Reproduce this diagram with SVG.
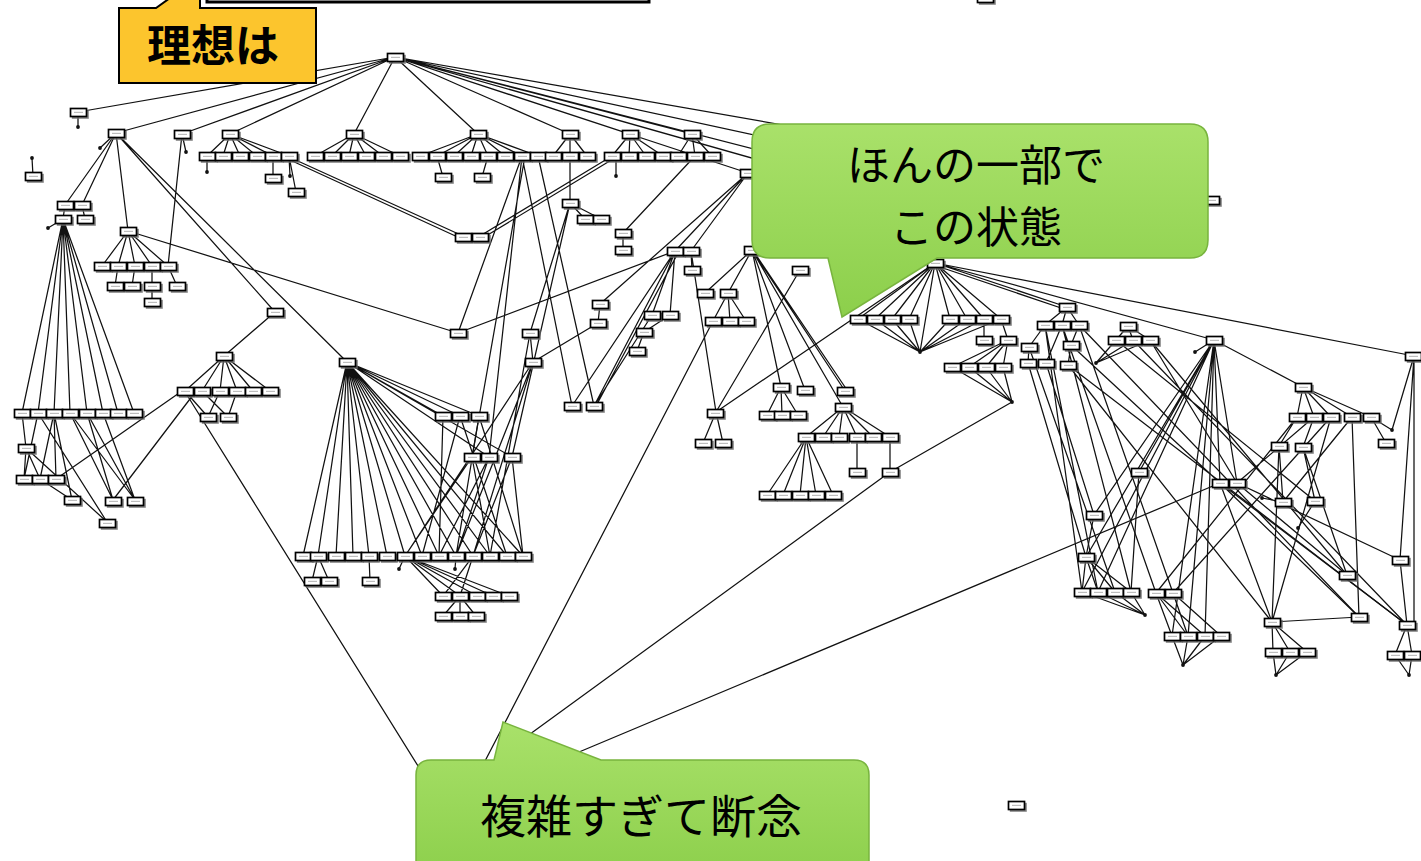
<svg xmlns="http://www.w3.org/2000/svg" xmlns:xlink="http://www.w3.org/1999/xlink" width="1421" height="861" viewBox="0 0 1421 861">
<style>
.e path{fill:none;stroke:#111;stroke-width:1.25}
.d circle{fill:#111}
.t{font-family:"Noto Sans CJK JP","Noto Sans CJK SC",sans-serif;fill:#000;text-anchor:middle}
</style>
<defs>
<g id="b"><rect x="1.8" y="1.8" width="17" height="9" fill="#6e6e6e" opacity=".85"/><rect x=".5" y=".5" width="16" height="8" fill="#fff" stroke="#000" stroke-width="1.7"/><rect x="4" y="3.8" width="9" height="1.2" fill="#bdbdbd"/></g>
<linearGradient id="gg" x1="0" y1="0" x2="0" y2="1"><stop offset="0" stop-color="#a9e16a"/><stop offset="1" stop-color="#8ccf4b"/></linearGradient>
</defs>
<rect width="1421" height="861" fill="#fff"/>
<rect x="207" y="-10" width="442" height="12" fill="#fff" stroke="#000" stroke-width="3"/>
<g id="connectors" class="e">
<path d="M395 57L78 112M395 57L116 133M395 57L182 134M395 57L230 134M395 57L354 134M395 57L478 134M395 57L570 134M395 57L630 134M395 57L692 134M395 57L748 173M395 57L900 200M395 57L1000 212M395 57L1100 210M395 57L1211 200M78 112L78 127M33 176L32 158"/>
<path d="M230 134L207 156M230 134L223 156M230 134L240 156M230 134L257 156M230 134L273 156M230 134L289 156M207 156L207 172M273 156L273 178M289 156L296 192M289 156L290 176M289 157L463 236M290 160L462 239M354 134L315 156M354 134L332 156M354 134L349 156M354 134L366 156M354 134L383 156M354 134L400 156M478 134L420 156M478 134L437 156M478 134L454 156M478 134L471 156M478 134L488 156M478 134L505 156M478 134L522 156M478 134L538 156M437 156L443 177M488 156L482 177M570 134L553 156M570 134L570 156M570 134L587 156M630 134L612 156M630 134L629 156M630 134L646 156M630 134L663 156M616 156L616 176M692 134L678 156M692 134L695 156M692 134L712 156"/>
<path d="M612 156L480 236M613 159L481 239M570 156L570 203M570 203L585 219M570 203L601 219M695 156L623 233M623 233L623 250M748 173L675 251M748 173L691 251M748 173L600 304M458 333L675 251M458 333L522 156M691 251L692 270M675 251L572 406M675 251L594 406M678 253L596 406M675 251L652 315M675 251L670 315M670 315L644 332M644 332L637 351M652 315L594 406M691 251L716 412M600 304L598 323M598 323L533 362M530 333L533 362M570 203L530 333M522 156L572 406M538 156L594 406M525 156L472 457M522 156L489 457M570 203L512 457"/>
<path d="M752 250L705 293M752 250L728 293M752 250L781 387M752 250L805 390M752 250L845 391M754 252L847 390M752 250L843 407M728 293L713 321M728 293L730 321M728 293L746 321M800 270L716 412M716 412L935 263M716 412L703 443M716 412L723 443M781 387L767 415M781 387L782 415M781 387L798 415M843 407L806 437M843 407L823 437M843 407L839 437M843 407L857 437M843 407L873 437M843 407L890 437M806 437L767 495M806 437L783 495M806 437L800 495M806 437L816 495M806 437L833 495M857 437L857 472M890 437L890 472M1012 402L890 472"/>
<path d="M187 395L428 782M713 321L470 790M890 472L515 745M1220 483L560 760"/>
<path d="M116 133L65 205M116 133L82 205M65 205L63 219M82 205L85 219M63 219L48 228M116 133L100 148M116 133L128 231M116 133L275 312M118 135L347 362M182 134L168 266M182 134L186 152M128 231L102 266M128 231L118 266M128 231L135 266M128 231L152 266M128 231L168 266M118 266L115 286M135 266L132 286M152 266L152 286M168 266L177 286M152 286L152 302M128 231L458 333"/>
<path d="M63 219L22 413M63 219L38 413M63 219L54 413M63 219L70 413M63 219L87 413M63 219L103 413M63 219L118 413M63 219L134 413M22 413L26 448M26 448L24 479M26 448L40 479M38 413L24 479M54 413L40 479M54 413L56 479M54 413L72 500M38 413L107 522M70 413L113 500M70 413L135 500M87 413L113 500M87 413L135 500M103 413L135 500M40 479L72 500M26 448L107 522M182 391L56 479M193 395L113 500M275 312L224 356M224 356L185 391M224 356L202 391M224 356L220 391M224 356L237 391M224 356L253 391M224 356L270 391M185 391L208 417M202 391L228 417M220 391L208 417M237 391L228 417"/>
<path d="M347 362L303 556M347 362L318 556M347 362L336 556M347 362L353 556M347 362L369 556M347 362L387 556M347 362L405 556M347 362L422 556M347 362L439 556M347 362L456 556M347 362L473 556M347 362L490 556M347 362L507 556M347 362L523 556M347 362L443 416M347 362L460 416M347 362L479 416M347 362L512 457M347 362L489 457M443 416L439 556M460 416L507 556M479 416L456 556M479 416L523 556M460 416L422 556M472 457L405 556M489 457L439 556M512 457L473 556M512 457L523 556M472 457L490 556M489 457L456 556M533 362L456 556M533 362L473 556M530 333L490 556M533 362L405 556M318 556L312 581M318 556L329 581M369 556L370 581M405 556L443 596M405 556L460 596M405 556L477 596M405 556L493 596M405 556L509 596M473 556L443 596M473 556L460 596M460 596L443 616M460 596L460 616M460 596L476 616M405 556L399 569M456 556L455 569"/>
<path d="M935 263L858 319M935 263L875 319M935 263L892 319M935 263L909 319M935 263L950 319M935 263L967 319M935 263L984 319M935 263L1001 319M935 263L920 352M858 319L920 352M875 319L920 352M892 319L920 352M909 319L920 352M950 319L920 352M967 319L920 352M984 319L920 352M1001 319L920 352M984 319L984 340M1001 319L1008 340M1008 340L952 367M1008 340L969 367M1008 340L986 367M1008 340L1003 367M952 367L1012 402M969 367L1012 402M986 367L1012 402M1003 367L1012 402M935 263L1067 307M937 266L1067 310M935 263L1214 340M935 263L1414 356"/>
<path d="M1067 307L1045 325M1067 307L1062 325M1067 307L1079 325M1045 325L1029 347M1029 347L1028 363M1062 325L1046 363M1079 325L1071 345M1071 345L1068 365M1045 325L1082 592M1045 325L1098 592M1029 347L1115 592M1062 325L1131 592M1046 363L1094 515M1028 363L1086 557M1062 325L1156 593M1079 325L1173 593M1071 345L1220 483M1068 365L1272 622M1079 325L1359 617M1068 365L1407 625M1128 326L1116 340M1128 326L1133 340M1128 326L1150 340M1116 340L1096 363M1133 340L1096 363M1150 340L1096 363M1150 340L1347 575M1133 340L1407 625M1116 340L1315 501M1150 340L1237 483"/>
<path d="M1214 340L1094 515M1214 340L1086 557M1214 340L1082 592M1214 340L1098 592M1214 340L1139 472M1214 340L1172 636M1214 340L1188 636M1214 340L1205 636M1214 340L1220 483M1214 340L1237 483M1214 340L1303 387M1214 340L1195 352M1303 387L1297 417M1303 387L1314 417M1303 387L1331 417M1303 387L1352 417M1303 387L1371 417M1297 417L1279 446M1314 417L1303 447M1371 417L1386 443M1371 417L1392 430M1279 446L1272 622M1279 446L1283 502M1303 447L1347 575M1303 447L1315 501M1331 417L1272 622M1352 417L1359 617M1352 417L1283 502M1331 417L1173 593M1297 417L1156 593M1314 417L1237 483"/>
<path d="M1272 622L1359 617M1272 622L1273 652M1272 622L1290 652M1272 622L1307 652M1273 652L1276 675M1290 652L1276 675M1307 652L1276 675M1407 625L1395 655M1407 625L1412 655M1395 655L1409 675M1412 655L1409 675M1414 356L1414 625M1414 356L1400 560M1414 356L1392 430M1220 483L1359 617M1220 483L1407 625M1237 483L1347 575M1220 483L1272 622M1237 483L1400 560M1094 515L1086 557M1086 557L1082 592M1086 557L1098 592M1086 557L1115 592M1086 557L1131 592M1082 592L1145 615M1098 592L1145 615M1115 592L1145 615M1131 592L1145 615M1156 593L1172 636M1156 593L1188 636M1156 593L1205 636M1173 593L1221 636M1173 593L1188 636M1172 636L1183 665M1188 636L1183 665M1205 636L1183 665M1221 636L1183 665M1139 472L1131 592M1283 502L1262 498M1315 501L1298 528M1400 560L1407 625"/>
</g>
<g class="d">
<circle cx="78" cy="127" r="1.9"/><circle cx="32" cy="158" r="1.9"/><circle cx="207" cy="172" r="1.9"/><circle cx="290" cy="176" r="1.9"/><circle cx="616" cy="176" r="1.9"/><circle cx="48" cy="228" r="1.9"/><circle cx="100" cy="148" r="1.9"/><circle cx="186" cy="152" r="1.9"/><circle cx="399" cy="569" r="1.9"/><circle cx="455" cy="569" r="1.9"/><circle cx="920" cy="352" r="1.9"/><circle cx="1012" cy="402" r="1.9"/><circle cx="1096" cy="363" r="1.9"/><circle cx="1145" cy="615" r="1.9"/><circle cx="1183" cy="665" r="1.9"/><circle cx="1276" cy="675" r="1.9"/><circle cx="1409" cy="675" r="1.9"/><circle cx="1195" cy="352" r="1.9"/><circle cx="1392" cy="430" r="1.9"/><circle cx="1262" cy="498" r="1.9"/><circle cx="1298" cy="528" r="1.9"/>
</g>
<g id="n1"><use href="#b" x="387" y="53"/></g>
<g id="n2"><use href="#b" x="70" y="108"/></g>
<g id="n3"><use href="#b" x="25" y="172"/></g>
<g id="n4"><use href="#b" x="108" y="129"/></g>
<g id="n5"><use href="#b" x="174" y="130"/></g>
<g id="n6"><use href="#b" x="222" y="130"/></g>
<g id="n7"><use href="#b" x="346" y="130"/></g>
<g id="n8"><use href="#b" x="470" y="130"/></g>
<g id="n9"><use href="#b" x="562" y="130"/></g>
<g id="n10"><use href="#b" x="622" y="130"/></g>
<g id="n11"><use href="#b" x="684" y="130"/></g>
<g id="n12"><use href="#b" x="199" y="152"/></g>
<g id="n13"><use href="#b" x="215" y="152"/></g>
<g id="n14"><use href="#b" x="232" y="152"/></g>
<g id="n15"><use href="#b" x="249" y="152"/></g>
<g id="n16"><use href="#b" x="265" y="152"/></g>
<g id="n17"><use href="#b" x="281" y="152"/></g>
<g id="n18"><use href="#b" x="307" y="152"/></g>
<g id="n19"><use href="#b" x="324" y="152"/></g>
<g id="n20"><use href="#b" x="341" y="152"/></g>
<g id="n21"><use href="#b" x="358" y="152"/></g>
<g id="n22"><use href="#b" x="375" y="152"/></g>
<g id="n23"><use href="#b" x="392" y="152"/></g>
<g id="n24"><use href="#b" x="412" y="152"/></g>
<g id="n25"><use href="#b" x="429" y="152"/></g>
<g id="n26"><use href="#b" x="446" y="152"/></g>
<g id="n27"><use href="#b" x="463" y="152"/></g>
<g id="n28"><use href="#b" x="480" y="152"/></g>
<g id="n29"><use href="#b" x="497" y="152"/></g>
<g id="n30"><use href="#b" x="514" y="152"/></g>
<g id="n31"><use href="#b" x="530" y="152"/></g>
<g id="n32"><use href="#b" x="545" y="152"/></g>
<g id="n33"><use href="#b" x="562" y="152"/></g>
<g id="n34"><use href="#b" x="579" y="152"/></g>
<g id="n35"><use href="#b" x="604" y="152"/></g>
<g id="n36"><use href="#b" x="621" y="152"/></g>
<g id="n37"><use href="#b" x="638" y="152"/></g>
<g id="n38"><use href="#b" x="655" y="152"/></g>
<g id="n39"><use href="#b" x="670" y="152"/></g>
<g id="n40"><use href="#b" x="687" y="152"/></g>
<g id="n41"><use href="#b" x="704" y="152"/></g>
<g id="n42"><use href="#b" x="265" y="174"/></g>
<g id="n43"><use href="#b" x="288" y="188"/></g>
<g id="n44"><use href="#b" x="435" y="173"/></g>
<g id="n45"><use href="#b" x="474" y="173"/></g>
<g id="n46"><use href="#b" x="455" y="233"/></g>
<g id="n47"><use href="#b" x="472" y="233"/></g>
<g id="n48"><use href="#b" x="562" y="199"/></g>
<g id="n49"><use href="#b" x="577" y="215"/></g>
<g id="n50"><use href="#b" x="593" y="215"/></g>
<g id="n51"><use href="#b" x="615" y="229"/></g>
<g id="n52"><use href="#b" x="615" y="246"/></g>
<g id="n53"><use href="#b" x="740" y="169"/></g>
<g id="n54"><use href="#b" x="667" y="247"/></g>
<g id="n55"><use href="#b" x="683" y="247"/></g>
<g id="n56"><use href="#b" x="684" y="266"/></g>
<g id="n57"><use href="#b" x="744" y="246"/></g>
<g id="n58"><use href="#b" x="792" y="266"/></g>
<g id="n59"><use href="#b" x="697" y="289"/></g>
<g id="n60"><use href="#b" x="720" y="289"/></g>
<g id="n61"><use href="#b" x="705" y="317"/></g>
<g id="n62"><use href="#b" x="722" y="317"/></g>
<g id="n63"><use href="#b" x="738" y="317"/></g>
<g id="n64"><use href="#b" x="592" y="300"/></g>
<g id="n65"><use href="#b" x="590" y="319"/></g>
<g id="n66"><use href="#b" x="644" y="311"/></g>
<g id="n67"><use href="#b" x="662" y="311"/></g>
<g id="n68"><use href="#b" x="636" y="328"/></g>
<g id="n69"><use href="#b" x="629" y="347"/></g>
<g id="n70"><use href="#b" x="522" y="329"/></g>
<g id="n71"><use href="#b" x="525" y="358"/></g>
<g id="n72"><use href="#b" x="564" y="402"/></g>
<g id="n73"><use href="#b" x="586" y="402"/></g>
<g id="n74"><use href="#b" x="450" y="329"/></g>
<g id="n75"><use href="#b" x="57" y="201"/></g>
<g id="n76"><use href="#b" x="74" y="201"/></g>
<g id="n77"><use href="#b" x="55" y="215"/></g>
<g id="n78"><use href="#b" x="77" y="215"/></g>
<g id="n79"><use href="#b" x="120" y="227"/></g>
<g id="n80"><use href="#b" x="94" y="262"/></g>
<g id="n81"><use href="#b" x="110" y="262"/></g>
<g id="n82"><use href="#b" x="127" y="262"/></g>
<g id="n83"><use href="#b" x="144" y="262"/></g>
<g id="n84"><use href="#b" x="160" y="262"/></g>
<g id="n85"><use href="#b" x="107" y="282"/></g>
<g id="n86"><use href="#b" x="124" y="282"/></g>
<g id="n87"><use href="#b" x="144" y="282"/></g>
<g id="n88"><use href="#b" x="169" y="282"/></g>
<g id="n89"><use href="#b" x="144" y="298"/></g>
<g id="n90"><use href="#b" x="14" y="409"/></g>
<g id="n91"><use href="#b" x="30" y="409"/></g>
<g id="n92"><use href="#b" x="46" y="409"/></g>
<g id="n93"><use href="#b" x="62" y="409"/></g>
<g id="n94"><use href="#b" x="79" y="409"/></g>
<g id="n95"><use href="#b" x="95" y="409"/></g>
<g id="n96"><use href="#b" x="110" y="409"/></g>
<g id="n97"><use href="#b" x="126" y="409"/></g>
<g id="n98"><use href="#b" x="18" y="444"/></g>
<g id="n99"><use href="#b" x="16" y="475"/></g>
<g id="n100"><use href="#b" x="32" y="475"/></g>
<g id="n101"><use href="#b" x="48" y="475"/></g>
<g id="n102"><use href="#b" x="64" y="496"/></g>
<g id="n103"><use href="#b" x="105" y="497"/></g>
<g id="n104"><use href="#b" x="127" y="497"/></g>
<g id="n105"><use href="#b" x="99" y="519"/></g>
<g id="n106"><use href="#b" x="267" y="308"/></g>
<g id="n107"><use href="#b" x="216" y="352"/></g>
<g id="n108"><use href="#b" x="177" y="387"/></g>
<g id="n109"><use href="#b" x="194" y="387"/></g>
<g id="n110"><use href="#b" x="212" y="387"/></g>
<g id="n111"><use href="#b" x="229" y="387"/></g>
<g id="n112"><use href="#b" x="245" y="387"/></g>
<g id="n113"><use href="#b" x="262" y="387"/></g>
<g id="n114"><use href="#b" x="200" y="413"/></g>
<g id="n115"><use href="#b" x="220" y="413"/></g>
<g id="n116"><use href="#b" x="339" y="358"/></g>
<g id="n117"><use href="#b" x="435" y="412"/></g>
<g id="n118"><use href="#b" x="452" y="412"/></g>
<g id="n119"><use href="#b" x="471" y="412"/></g>
<g id="n120"><use href="#b" x="464" y="453"/></g>
<g id="n121"><use href="#b" x="481" y="453"/></g>
<g id="n122"><use href="#b" x="504" y="453"/></g>
<g id="n123"><use href="#b" x="295" y="552"/></g>
<g id="n124"><use href="#b" x="310" y="552"/></g>
<g id="n125"><use href="#b" x="328" y="552"/></g>
<g id="n126"><use href="#b" x="345" y="552"/></g>
<g id="n127"><use href="#b" x="361" y="552"/></g>
<g id="n128"><use href="#b" x="379" y="552"/></g>
<g id="n129"><use href="#b" x="397" y="552"/></g>
<g id="n130"><use href="#b" x="414" y="552"/></g>
<g id="n131"><use href="#b" x="431" y="552"/></g>
<g id="n132"><use href="#b" x="448" y="552"/></g>
<g id="n133"><use href="#b" x="465" y="552"/></g>
<g id="n134"><use href="#b" x="482" y="552"/></g>
<g id="n135"><use href="#b" x="499" y="552"/></g>
<g id="n136"><use href="#b" x="515" y="552"/></g>
<g id="n137"><use href="#b" x="304" y="577"/></g>
<g id="n138"><use href="#b" x="321" y="577"/></g>
<g id="n139"><use href="#b" x="362" y="577"/></g>
<g id="n140"><use href="#b" x="435" y="592"/></g>
<g id="n141"><use href="#b" x="452" y="592"/></g>
<g id="n142"><use href="#b" x="469" y="592"/></g>
<g id="n143"><use href="#b" x="485" y="592"/></g>
<g id="n144"><use href="#b" x="501" y="592"/></g>
<g id="n145"><use href="#b" x="435" y="612"/></g>
<g id="n146"><use href="#b" x="452" y="612"/></g>
<g id="n147"><use href="#b" x="468" y="612"/></g>
<g id="n148"><use href="#b" x="707" y="409"/></g>
<g id="n149"><use href="#b" x="695" y="439"/></g>
<g id="n150"><use href="#b" x="715" y="439"/></g>
<g id="n151"><use href="#b" x="773" y="383"/></g>
<g id="n152"><use href="#b" x="797" y="386"/></g>
<g id="n153"><use href="#b" x="759" y="411"/></g>
<g id="n154"><use href="#b" x="774" y="411"/></g>
<g id="n155"><use href="#b" x="790" y="411"/></g>
<g id="n156"><use href="#b" x="835" y="403"/></g>
<g id="n157"><use href="#b" x="837" y="387"/></g>
<g id="n158"><use href="#b" x="798" y="433"/></g>
<g id="n159"><use href="#b" x="815" y="433"/></g>
<g id="n160"><use href="#b" x="831" y="433"/></g>
<g id="n161"><use href="#b" x="849" y="433"/></g>
<g id="n162"><use href="#b" x="865" y="433"/></g>
<g id="n163"><use href="#b" x="882" y="433"/></g>
<g id="n164"><use href="#b" x="849" y="468"/></g>
<g id="n165"><use href="#b" x="882" y="468"/></g>
<g id="n166"><use href="#b" x="759" y="491"/></g>
<g id="n167"><use href="#b" x="775" y="491"/></g>
<g id="n168"><use href="#b" x="792" y="491"/></g>
<g id="n169"><use href="#b" x="808" y="491"/></g>
<g id="n170"><use href="#b" x="825" y="491"/></g>
<g id="n171"><use href="#b" x="850" y="315"/></g>
<g id="n172"><use href="#b" x="867" y="315"/></g>
<g id="n173"><use href="#b" x="884" y="315"/></g>
<g id="n174"><use href="#b" x="901" y="315"/></g>
<g id="n175"><use href="#b" x="942" y="315"/></g>
<g id="n176"><use href="#b" x="959" y="315"/></g>
<g id="n177"><use href="#b" x="976" y="315"/></g>
<g id="n178"><use href="#b" x="993" y="315"/></g>
<g id="n179"><use href="#b" x="976" y="336"/></g>
<g id="n180"><use href="#b" x="1000" y="336"/></g>
<g id="n181"><use href="#b" x="944" y="363"/></g>
<g id="n182"><use href="#b" x="961" y="363"/></g>
<g id="n183"><use href="#b" x="978" y="363"/></g>
<g id="n184"><use href="#b" x="995" y="363"/></g>
<g id="n185"><use href="#b" x="927" y="259"/></g>
<g id="n186"><use href="#b" x="1059" y="303"/></g>
<g id="n187"><use href="#b" x="1037" y="321"/></g>
<g id="n188"><use href="#b" x="1054" y="321"/></g>
<g id="n189"><use href="#b" x="1071" y="321"/></g>
<g id="n190"><use href="#b" x="1021" y="343"/></g>
<g id="n191"><use href="#b" x="1020" y="359"/></g>
<g id="n192"><use href="#b" x="1038" y="359"/></g>
<g id="n193"><use href="#b" x="1063" y="341"/></g>
<g id="n194"><use href="#b" x="1060" y="361"/></g>
<g id="n195"><use href="#b" x="1120" y="322"/></g>
<g id="n196"><use href="#b" x="1108" y="336"/></g>
<g id="n197"><use href="#b" x="1125" y="336"/></g>
<g id="n198"><use href="#b" x="1142" y="336"/></g>
<g id="n199"><use href="#b" x="1206" y="336"/></g>
<g id="n200"><use href="#b" x="1295" y="383"/></g>
<g id="n201"><use href="#b" x="1289" y="413"/></g>
<g id="n202"><use href="#b" x="1306" y="413"/></g>
<g id="n203"><use href="#b" x="1323" y="413"/></g>
<g id="n204"><use href="#b" x="1344" y="413"/></g>
<g id="n205"><use href="#b" x="1363" y="413"/></g>
<g id="n206"><use href="#b" x="1271" y="442"/></g>
<g id="n207"><use href="#b" x="1295" y="443"/></g>
<g id="n208"><use href="#b" x="1378" y="439"/></g>
<g id="n209"><use href="#b" x="1405" y="352"/></g>
<g id="n210"><use href="#b" x="1131" y="468"/></g>
<g id="n211"><use href="#b" x="1086" y="511"/></g>
<g id="n212"><use href="#b" x="1078" y="553"/></g>
<g id="n213"><use href="#b" x="1074" y="588"/></g>
<g id="n214"><use href="#b" x="1090" y="588"/></g>
<g id="n215"><use href="#b" x="1107" y="588"/></g>
<g id="n216"><use href="#b" x="1123" y="588"/></g>
<g id="n217"><use href="#b" x="1148" y="589"/></g>
<g id="n218"><use href="#b" x="1165" y="589"/></g>
<g id="n219"><use href="#b" x="1164" y="632"/></g>
<g id="n220"><use href="#b" x="1180" y="632"/></g>
<g id="n221"><use href="#b" x="1197" y="632"/></g>
<g id="n222"><use href="#b" x="1213" y="632"/></g>
<g id="n223"><use href="#b" x="1212" y="479"/></g>
<g id="n224"><use href="#b" x="1229" y="479"/></g>
<g id="n225"><use href="#b" x="1275" y="498"/></g>
<g id="n226"><use href="#b" x="1307" y="497"/></g>
<g id="n227"><use href="#b" x="1339" y="571"/></g>
<g id="n228"><use href="#b" x="1392" y="556"/></g>
<g id="n229"><use href="#b" x="1351" y="613"/></g>
<g id="n230"><use href="#b" x="1264" y="618"/></g>
<g id="n231"><use href="#b" x="1265" y="648"/></g>
<g id="n232"><use href="#b" x="1282" y="648"/></g>
<g id="n233"><use href="#b" x="1299" y="648"/></g>
<g id="n234"><use href="#b" x="1399" y="621"/></g>
<g id="n235"><use href="#b" x="1387" y="651"/></g>
<g id="n236"><use href="#b" x="1404" y="651"/></g>
<g id="n237"><use href="#b" x="1008" y="801"/></g>
<g id="n238"><use href="#b" x="1203" y="196"/></g>
<g id="n239"><use href="#b" x="977" y="-6"/></g>
<g id="callout-ideal">
<path d="M119 8H156L170 -2H200V8H316V83H119Z" fill="#fcc52d" stroke="#000" stroke-width="2" stroke-linejoin="miter"/>
<text class="t" x="213" y="62" font-size="44" font-weight="bold">理想は</text>
</g>
<g id="callout-part">
<path d="M770 124H1190Q1208 124 1208 142V240Q1208 258 1190 258H937L842 317L828 258H770Q752 258 752 240V142Q752 124 770 124Z" fill="url(#gg)" stroke="#78b43e" stroke-width="1.5"/>
<text class="t" x="976" y="181" font-size="43">ほんの一部で</text>
<text class="t" x="976" y="243" font-size="43">この状態</text>
</g>
<g id="callout-give-up">
<path d="M431 760H494L503 722L601 760H854Q869 760 869 775V880H416V775Q416 760 431 760Z" fill="url(#gg)" stroke="#78b43e" stroke-width="1.5"/>
<text class="t" x="641" y="833" font-size="46">複雑すぎて断念</text>
</g>
</svg>
